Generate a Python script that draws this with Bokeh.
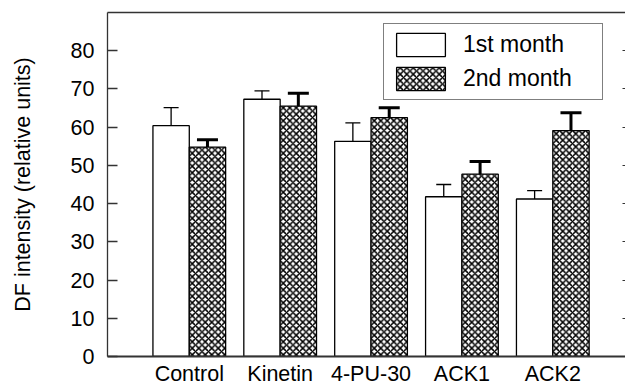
from bokeh.plotting import figure
from bokeh.models import (ColumnDataSource, Range1d, FixedTicker, LinearAxis,
                          Whisker, TeeHead, Legend, LegendItem)
from bokeh.transform import dodge
from bokeh.embed import file_html
from bokeh.resources import INLINE

# ---- data ----
categories = ["Control", "Kinetin", "4-PU-30", "ACK1", "ACK2"]
month1 = [60.4, 67.3, 56.3, 41.8, 41.2]
month1_err = [4.7, 2.2, 4.8, 3.2, 2.2]
month2 = [54.8, 65.5, 62.5, 47.7, 59.1]
month2_err = [1.9, 3.4, 2.6, 3.3, 4.7]
y_ticks = [0, 10, 20, 30, 40, 50, 60, 70, 80]
series_labels = ["1st month", "2nd month"]

FONT = "Liberation Sans"
AX = "#333333"

xs = list(range(len(categories)))
src = ColumnDataSource(dict(
    x=xs,
    m1=month1, m1_top=[v + e for v, e in zip(month1, month1_err)],
    m2=month2, m2_top=[v + e for v, e in zip(month2, month2_err)],
))

p = figure(width=625, height=388, output_backend="svg", toolbar_location=None,
           x_range=Range1d(-0.9, 4.8), y_range=Range1d(0, 90),
           x_axis_type=None, y_axis_type=None,
           min_border_left=107, min_border_right=0, min_border_top=12, min_border_bottom=0)
p.outline_line_color = None
p.background_fill_color = "white"
p.border_fill_color = "white"

# left axis
yl = LinearAxis(ticker=FixedTicker(ticks=y_ticks),
                axis_label="DF intensity (relative units)")
yl.major_tick_in = 10
yl.major_tick_out = 0
yl.minor_tick_line_color = None
yl.axis_line_color = AX
yl.axis_line_width = 1.3
yl.major_tick_line_color = AX
yl.major_tick_line_width = 1.3
yl.major_label_text_font = FONT
yl.major_label_text_font_size = "21.5px"
yl.major_label_text_color = "black"
yl.major_label_standoff = 13
yl.axis_label_text_font = FONT
yl.axis_label_text_font_size = "21.5px"
yl.axis_label_text_font_style = "normal"
yl.axis_label_text_color = "black"
yl.axis_label_standoff = 33
p.add_layout(yl, "left")

# bottom axis
xb = LinearAxis(ticker=FixedTicker(ticks=xs),
                major_label_overrides={i: c for i, c in zip(xs, categories)})
xb.major_tick_in = 0
xb.major_tick_out = 0
xb.minor_tick_line_color = None
xb.axis_line_color = AX
xb.axis_line_width = 2
xb.major_label_text_font = FONT
xb.major_label_text_font_size = "21.5px"
xb.major_label_text_color = "black"
xb.major_label_standoff = 5
p.add_layout(xb, "below")

# top border line
xt = LinearAxis(ticker=FixedTicker(ticks=[]))
xt.major_tick_in = 0
xt.major_tick_out = 0
xt.minor_tick_line_color = None
xt.axis_line_color = AX
xt.axis_line_width = 1.5
xt.major_label_text_font_size = "1px"
xt.major_label_text_color = None
xt.major_label_standoff = 0
p.add_layout(xt, "above")

# right ticks (axis line itself lies beyond the picture)
yr = LinearAxis(ticker=FixedTicker(ticks=y_ticks[1:]))
yr.major_tick_in = 3
yr.major_tick_out = 0
yr.minor_tick_line_color = None
yr.axis_line_color = None
yr.major_tick_line_color = AX
yr.major_label_text_font_size = "1px"
yr.major_label_text_color = None
yr.major_label_standoff = 0
p.add_layout(yr, "right")

p.xgrid.visible = False
p.ygrid.visible = False

# bars
r1 = p.vbar(x=dodge("x", -0.2, range=p.x_range), top="m1", width=0.4, source=src,
            fill_color="white", line_color="black", line_width=1.3)
r2 = p.vbar(x=dodge("x", 0.2, range=p.x_range), top="m2", width=0.4, source=src,
            fill_color="white", line_color="black", line_width=1.3,
            hatch_pattern="diagonal_cross", hatch_color="black",
            hatch_scale=6.5, hatch_weight=1.5)

# error bars (upper only)
w1 = Whisker(base=dodge("x", -0.2, range=p.x_range), lower="m1", upper="m1_top",
             source=src, line_color="black", line_width=1.3, level="overlay",
             upper_head=TeeHead(size=15, line_width=1.3, line_color="black"),
             lower_head=None)
w2 = Whisker(base=dodge("x", 0.2, range=p.x_range), lower="m2", upper="m2_top",
             source=src, line_color="black", line_width=3, level="overlay",
             upper_head=TeeHead(size=21, line_width=3, line_color="black"),
             lower_head=None)
p.add_layout(w1)
p.add_layout(w2)

legend = Legend(items=[LegendItem(label=series_labels[0], renderers=[r1]),
                       LegendItem(label=series_labels[1], renderers=[r2])],
                location=(276, 256), margin=0, padding=6, spacing=5,
                glyph_width=61, glyph_height=29, label_standoff=12,
                label_width=133, label_height=29,
                label_text_font=FONT, label_text_font_size="23px",
                label_text_color="black",
                border_line_color="black", border_line_width=1.5,
                background_fill_color="white", background_fill_alpha=1)
p.add_layout(legend, "center")

open("out.html", "w").write(file_html(p, INLINE))
